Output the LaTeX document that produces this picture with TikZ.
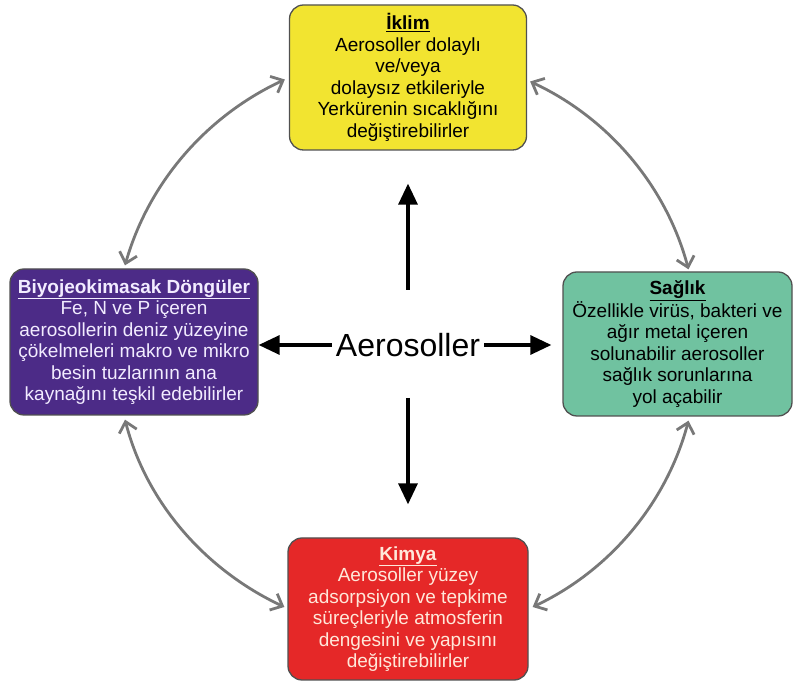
\documentclass[tikz,border=0pt]{standalone}
\usepackage{fontspec}
\setmainfont{Liberation Sans}
\usetikzlibrary{arrows.meta}
\definecolor{ylw}{RGB}{242,228,48}
\definecolor{prp}{RGB}{76,43,135}
\definecolor{tea}{RGB}{112,194,160}
\definecolor{rd}{RGB}{229,40,40}
\definecolor{kimtxt}{RGB}{255,232,218}
\definecolor{biytxt}{RGB}{242,236,255}
\definecolor{arcgray}{RGB}{120,120,120}
\definecolor{bord}{RGB}{80,80,80}
\begin{document}
\begin{tikzpicture}[x=1pt,y=1pt,
  box/.style={draw=bord, line width=1.3pt, rounded corners=14pt, align=center,
    font=\fontsize{19}{21.5}\selectfont, inner sep=0pt},
  arcline/.style={draw=arcgray, line width=2.8pt,
    {Straight Barb[length=10pt,width=18pt,line width=2.8pt]}-{Straight Barb[length=10pt,width=18pt,line width=2.8pt]}},
  blk/.style={draw=black, line width=3.2pt, -{Triangle[length=21pt,width=19pt]}}
]
\useasboundingbox (0,0) rectangle (797,684);
\node[box, fill=ylw, text=black, minimum width=237pt, minimum height=145pt] (iklim) at (408,606.5)
  {\underline{\textbf{İklim}}\\Aerosoller dolaylı\\ve/veya\\dolaysız etkileriyle\\Yerkürenin sıcaklığını\\değiştirebilirler};
\node[box, fill=prp, text=biytxt, minimum width=248pt, minimum height=146pt] (biyo) at (134,342)
  {\underline{\textbf{Biyojeokimasak Döngüler}}\\Fe, N ve P içeren\\aerosollerin deniz yüzeyine\\çökelmeleri makro ve mikro\\besin tuzlarının ana\\kaynağını teşkil edebilirler};
\node[box, fill=tea, text=black, minimum width=229pt, minimum height=144pt] (saglik) at (677.5,340)
  {\underline{\textbf{Sağlık}}\\Özellikle virüs, bakteri ve\\ağır metal içeren\\solunabilir aerosoller\\sağlık sorunlarına\\yol açabilir};
\node[box, fill=rd, text=kimtxt, minimum width=240pt, minimum height=142pt] (kimya) at (408,75)
  {\underline{\textbf{Kimya}}\\Aerosoller yüzey\\adsorpsiyon ve tepkime\\süreçleriyle atmosferin\\dengesini ve yapısını\\değiştirebilirler};
\node[font=\fontsize{32}{36}\selectfont, inner sep=0pt] (aero) at (408,339) {Aerosoller};

% black arrows
\draw[blk] ([yshift=55pt]aero.center) -- ([yshift=-33pt]iklim.south |- iklim.south);
\draw[blk] ([yshift=-53pt]aero.center) -- ([yshift=33pt]kimya.north);
\draw[blk] ([xshift=-4pt]aero.west) -- (aero.west -| biyo.east);
\draw[blk] ([xshift=4pt]aero.east) -- ([xshift=-11pt]aero.east -| saglik.west);

% gray arcs
\draw[arcline] ([xshift=-4pt,yshift=-2pt]iklim.west) to[out=205,in=74,looseness=0.9] ([xshift=-9pt,yshift=3pt]biyo.north);
\draw[arcline] ([xshift=3pt,yshift=-4pt]iklim.east) to[out=-25,in=105,looseness=0.9] ([xshift=11pt,yshift=2pt]saglik.north);
\draw[arcline] ([xshift=-9pt,yshift=-4pt]biyo.south) to[out=-75.5,in=154.8,looseness=0.9] ([xshift=-3pt,yshift=2pt]kimya.west);
\draw[arcline] ([xshift=11pt,yshift=-4pt]saglik.south) to[out=-105,in=25.3,looseness=0.9] ([xshift=4pt,yshift=2pt]kimya.east);
\end{tikzpicture}
\end{document}
